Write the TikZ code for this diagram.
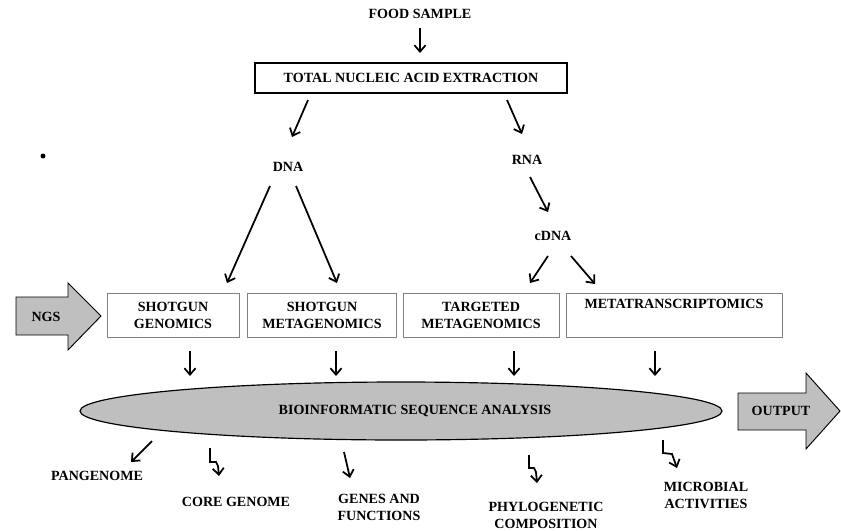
\documentclass[tikz,border=0pt]{standalone}
\usepackage{fontspec}
\setmainfont{Liberation Serif}
\usetikzlibrary{arrows.meta, shapes.geometric, calc}

\begin{document}
\begin{tikzpicture}[x=0.03cm, y=-0.03cm, >={Straight Barb[length=5.5pt,width=9.5pt]},
  every node/.style={font=\fontsize{12}{14.5}\selectfont\bfseries, align=center},
  arr/.style={->, line width=1.5pt},
  method/.style={draw=gray, line width=0.6pt, minimum height=1.32cm, inner sep=0pt},
  bigarrow/.style={draw=black, fill=lightgray, line width=0.8pt}]
  \useasboundingbox (0,0) rectangle (841,530);

  \node                (food) at (420,14)  {FOOD SAMPLE};
  \node[draw, line width=1.2pt, minimum width=9.36cm, minimum height=0.9cm]
                       (tnae) at (411,78)  {TOTAL NUCLEIC ACID EXTRACTION};
  \node                (dna)  at (288,167) {DNA};
  \node                (rna)  at (527,160) {RNA};
  \node                (cdna) at (553,236) {cDNA};
  \fill (43,156) circle (2.5);

  % sequencing approaches
  \draw[bigarrow] (16,297) -- (68,297) -- (68,283) -- (101,316) -- (68,350) -- (68,335) -- (16,335) -- cycle;
  \node                (ngs)  at (46,317)  {NGS};
  \node[method, minimum width=3.96cm] (sg) at (173,315) {SHOTGUN\\GENOMICS};
  \node[method, minimum width=4.47cm] (sm) at (322,315) {SHOTGUN\\METAGENOMICS};
  \node[method, minimum width=4.68cm] (tm) at (481,315) {TARGETED\\METAGENOMICS};
  \node[method, minimum width=6.48cm] (mt) at (674,315) {METATRANSCRIPTOMICS\\\strut};

  \node[ellipse, draw, fill=lightgray, line width=1pt, inner sep=0pt,
        minimum width=19.26cm, minimum height=1.74cm]
                       (seq)  at (401,411) {\hspace*{0.84cm}BIOINFORMATIC SEQUENCE ANALYSIS};
  \draw[bigarrow] (738,393) -- (806,393) -- (806,373) -- (840,411) -- (806,449) -- (806,430) -- (738,430) -- cycle;
  \node                (output) at (781,411) {OUTPUT};

  % results
  \node                (pan)   at (97,476)  {PANGENOME};
  \node                (core)  at (236,502) {CORE GENOME};
  \node                (genes) at (379,507) {GENES AND\\FUNCTIONS};
  \node                (phylo) at (546,515) {PHYLOGENETIC\\COMPOSITION};
  \node                (micro) at (706,495) {MICROBIAL\\ACTIVITIES};

  \draw[arr] ($(food)+(0,14)$) -- ($(tnae)+(9,-25)$);
  \draw[arr] ($(tnae)+(-103,22)$) -- ($(dna)+(4,-30)$);
  \draw[arr] ($(tnae)+(96,22)$) -- ($(rna)+(-5,-26)$);
  \draw[arr] ($(rna)+(3,17)$) -- ($(cdna)+(-5,-24)$);
  \draw[arr] ($(dna)+(-18,19)$) -- ($(sg)+(54,-32)$);
  \draw[arr] ($(dna)+(8,19)$) -- ($(sm)+(15,-32)$);
  \draw[arr] ($(cdna)+(-5,20)$) -- ($(tm)+(49,-32)$);
  \draw[arr] ($(cdna)+(18,20)$) -- ($(mt)+(-79,-31)$);
  \foreach \b/\dx/\sx in {sg/17/-211, sm/14/-65, tm/33/113, mt/-19/254}
    \draw[arr] ($(\b)+(\dx,36)$) -- ($(seq)+(\sx,-35)$);

  \draw[arr] ($(seq)+(-249,30)$) -- ($(pan)+(34,-14)$);
  \draw[arr] ($(seq)+(-191,37)$) -- ++(0,14) -- ++(6,0) -- ++(2,4) -- ($(core)+(-17,-26)$);
  \draw[arr] ($(seq)+(-57,41)$) -- ($(genes)+(-29,-29)$);
  \draw[arr] ($(seq)+(128,44)$) -- ++(0,13) -- ++(5,0) -- ++(2,4) -- ($(phylo)+(-9,-32)$);
  \draw[arr] ($(seq)+(262,29)$) -- ++(0,13) -- ++(9,1) -- ($(micro)+(-29,-27)$);
\end{tikzpicture}
\end{document}
